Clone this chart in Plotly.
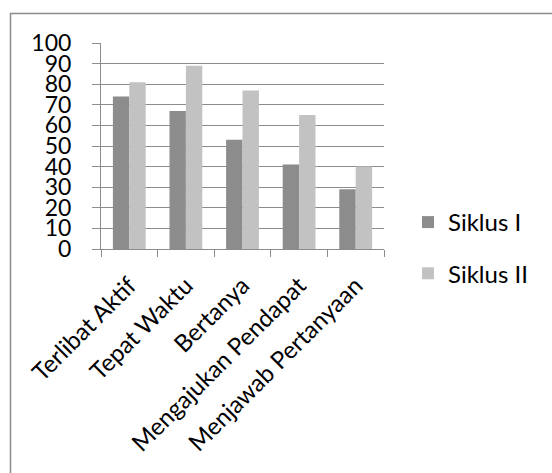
import plotly.graph_objects as go

categories = ["Terlibat Aktif", "Tepat Waktu", "Bertanya", "Mengajukan Pendapat", "Menjawab Pertanyaan"]
siklus_1 = [74, 67, 53, 41, 29]
siklus_2 = [81, 89, 77, 65, 40]
series_names = ["Siklus I", "Siklus II"]
y_ticks = [0, 10, 20, 30, 40, 50, 60, 70, 80, 90, 100]

W, H = 552, 473
L, R, T, B = 101, 168, 43, 224
pw, ph = W - L - R, H - T - B

def px_x(x):
    return (x - L) / pw

def px_y(y):
    return (H - B - y) / ph

fig = go.Figure()
fig.add_trace(go.Bar(x=categories, y=siklus_1, name=series_names[0], legendgroup="a",
                     marker=dict(color="#8c8c8c", line=dict(width=0))))
fig.add_trace(go.Bar(x=categories, y=siklus_2, name=series_names[1], legendgroup="b",
                     marker=dict(color="#c2c2c2", line=dict(width=0))))

fig.update_layout(
    width=W, height=H,
    margin=dict(l=L, r=R, t=T, b=B, pad=0, autoexpand=False),
    paper_bgcolor="white", plot_bgcolor="white",
    barmode="group", bargap=0.42, bargroupgap=0,
    font=dict(family="Lato, 'Open Sans', sans-serif", color="black"),
    legend=dict(x=px_x(408), y=px_y(248), xanchor="left", yanchor="middle",
                font=dict(size=24, family="Lato"), traceorder="grouped",
                tracegroupgap=17, bgcolor="rgba(0,0,0,0)"),
    xaxis=dict(tickangle=-45, tickfont=dict(size=24, family="Lato"),
               automargin=False,
               showline=True, linecolor="#8c8c8c", linewidth=1,
               ticks="outside", tickson="boundaries", ticklen=7, tickcolor="#8c8c8c",
               ticklabelstandoff=12, showgrid=False),
    yaxis=dict(range=[0, 100], tickvals=y_ticks, ticktext=[str(v) for v in y_ticks],
               tickfont=dict(size=23, family="Lato"), automargin=False,
               showline=True, linecolor="#8c8c8c", linewidth=1,
               ticks="outside", ticklen=8, tickcolor="#8c8c8c",
               ticklabelstandoff=16,
               showgrid=True, gridcolor="#8c8c8c", gridwidth=1, zeroline=False),
    shapes=[dict(type="rect", xref="paper", yref="paper",
                 x0=px_x(10.5), x1=px_x(600), y0=px_y(520), y1=px_y(13.5),
                 line=dict(color="#8c8c8c", width=1.5), layer="below")],
)

fig.write_html("out.html")
